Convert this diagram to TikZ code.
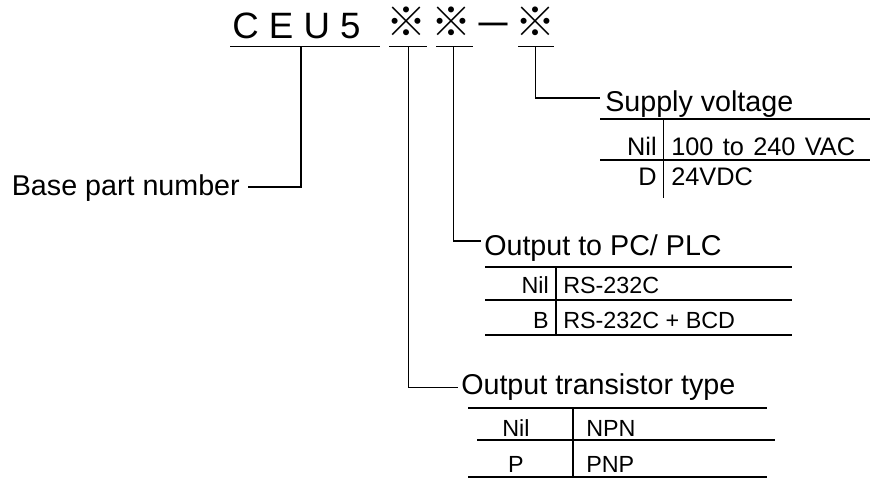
\documentclass[tikz,border=0pt]{standalone}
\usepackage{fontspec}
\setmainfont{Liberation Sans}
\newfontfamily\cjk{Noto Sans CJK JP}
\tikzset{
  ttl/.style={font=\fontsize{27.5}{32}\selectfont, inner sep=0pt, anchor=base west},
  refmk/.style={font=\cjk\fontsize{30}{36}\selectfont, inner sep=0pt, anchor=base, text height=20pt, text depth=4pt},
  hd/.style={font=\fontsize{21.5}{26}\selectfont, inner sep=0pt, anchor=base west},
  svtxt/.style={font=\fontsize{19}{23}\selectfont, inner sep=0pt},
  tbtxt/.style={font=\fontsize{17.5}{21}\selectfont, inner sep=0pt},
  uline/.style={line width=1.1pt},
  conn/.style={line width=0.8pt},
  rule/.style={line width=1pt},
}
\begin{document}
\begin{tikzpicture}[x=0.75pt,y=-0.75pt]
\useasboundingbox (0,0) rectangle (870,479);
% ---- model code ----
\node[ttl] (ceu) at (232,38) {C E U 5};
\node[refmk] (m1) at (406.5,36.5) {※};
\node[refmk] (m2) at (451.5,36.5) {※};
\node[refmk] (dash) at (493,39) {－};
\node[refmk] (m3) at (535,36.5) {※};
% underlines
\coordinate (ua) at (230,46.5); \coordinate (ub) at (380,46.5);
\coordinate (uc) at (389,46.5); \coordinate (ud) at (427,46.5);
\coordinate (ue) at (436,46.5); \coordinate (uf) at (473,46.5);
\coordinate (ug) at (518,46.5); \coordinate (uh) at (554,46.5);
\draw[uline] (ua) -- (ub);
\draw[uline] (uc) -- (ud);
\draw[uline] (ue) -- (uf);
\draw[uline] (ug) -- (uh);
% connector roots
\coordinate (k0) at (301,46.5);
\coordinate (k1) at (408.5,46.5);
\coordinate (k2) at (453.5,46.5);
\coordinate (k3) at (535.5,46.5);
% ---- base part number ----
\node[hd, anchor=base east] (bpn) at (240,195) {Base part number};
\draw[conn] (k0) |- ([xshift=6pt,yshift=6pt]bpn.base east);
% ---- supply voltage ----
\node[hd] (sv) at (605,111) {Supply voltage};
\draw[conn] (k3) |- ([xshift=-4pt,yshift=9.75pt]sv.base west);
\node[svtxt, anchor=base east] (svn) at (657,155) {Nil};
\node[svtxt, anchor=base west] (svnv) at (671,155) {100\hspace{7pt}to\hspace{7pt}240\hspace{7pt}VAC};
\node[svtxt, anchor=base east] (svd) at (657,185) {D};
\node[svtxt, anchor=base west] (svdv) at (671,185) {24VDC};
\draw[rule] (600,119) -- (870,119);
\draw[rule] (600,160) -- (870,160);
\draw[rule] (663.5,119) -- (663.5,198);
% ---- output to PC/PLC ----
\node[hd] (pc) at (484,255) {Output to PC/ PLC};
\draw[conn] (k2) |- ([xshift=-2pt,yshift=10.5pt]pc.base west);
\node[tbtxt, anchor=base east] (pcn) at (549,293) {Nil};
\node[tbtxt, anchor=base west] (pcnv) at (563,293) {RS-232C};
\node[tbtxt, anchor=base east] (pcb) at (549,328) {B};
\node[tbtxt, anchor=base west] (pcbv) at (563,328) {RS-232C + BCD};
\draw[rule] (485,267) -- (792,267);
\draw[rule] (485,300) -- (792,300);
\draw[rule] (485,335) -- (792,335);
\draw[rule] (556,267) -- (556,335);
% ---- output transistor type ----
\node[hd] (tt) at (461,394) {Output transistor type};
\draw[conn] (k1) |- ([xshift=-2pt,yshift=5pt]tt.base west);
\node[tbtxt, anchor=base] (ttn) at (516,436) {Nil};
\node[tbtxt, anchor=base west] (ttnv) at (586,436) {NPN};
\node[tbtxt, anchor=base] (ttp) at (516,472) {P};
\node[tbtxt, anchor=base west] (ttpv) at (586,472) {PNP};
\draw[rule] (468,408) -- (767,408);
\draw[rule] (477,440) -- (775,440);
\draw[rule] (468,477) -- (767,477);
\draw[rule] (573,408) -- (573,477);
\end{tikzpicture}
\end{document}
